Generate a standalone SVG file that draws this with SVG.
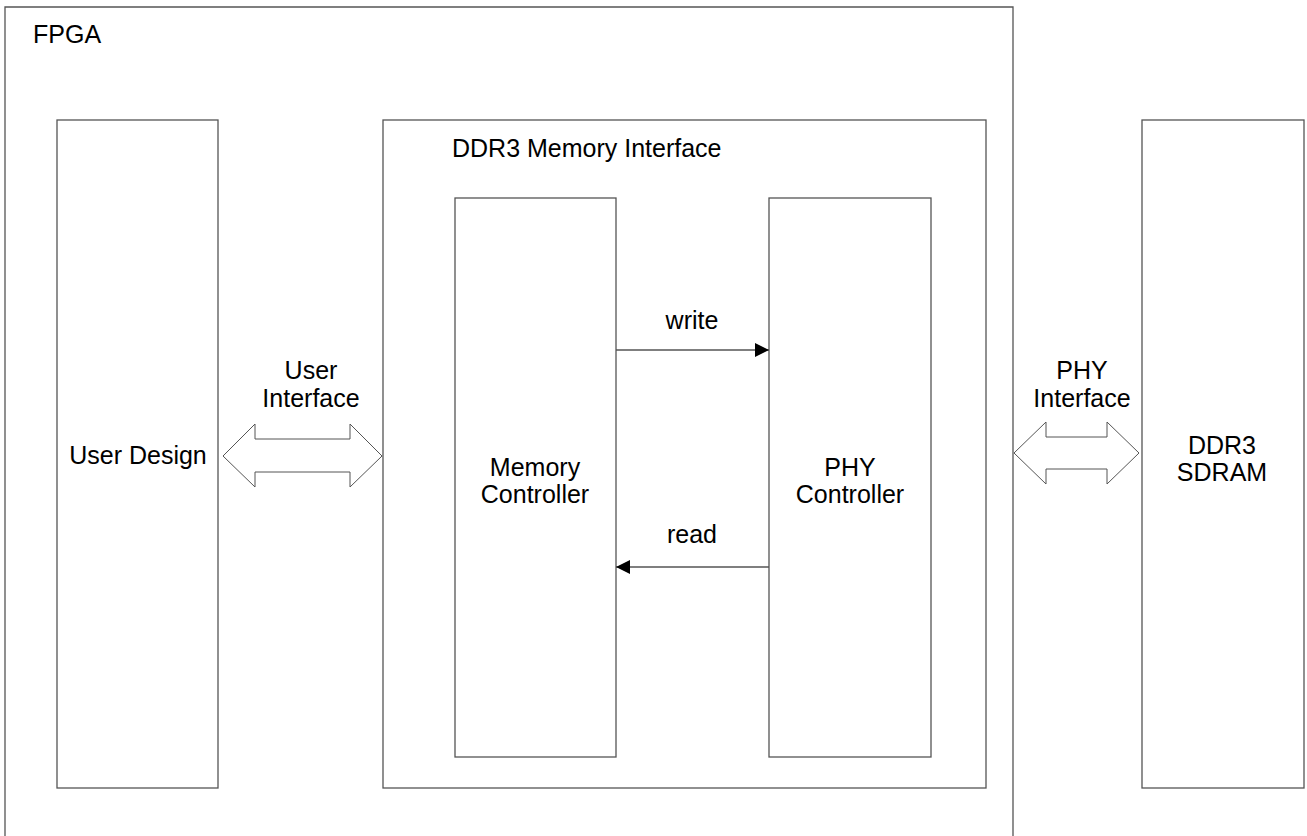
<svg xmlns="http://www.w3.org/2000/svg" width="1307" height="836" viewBox="0 0 1307 836">
<defs>
<style>
.box{fill:#fff;stroke:#555;stroke-width:1.3}
.t{font-family:"Liberation Sans",Arial,sans-serif;font-size:25px;fill:#000}
.m{text-anchor:middle}
.ln{stroke:#555;stroke-width:1.3;fill:none}
.dbl{fill:#fff;stroke:#555;stroke-width:1}
</style>
<marker id="ah" viewBox="0 0 10 10" refX="10" refY="5" markerWidth="16" markerHeight="14" markerUnits="userSpaceOnUse" orient="auto">
<path d="M0,0 L10,5 L0,10 Z" fill="#000"/>
</marker>
</defs>
<rect width="1307" height="836" fill="#fff"/>
<g id="fpga">
<path class="ln" d="M5,840 V7 H1013 V840"/>
<text class="t" x="33" y="43">FPGA</text>
</g>
<g id="user-design">
<rect class="box" x="57" y="120" width="161" height="668"/>
<text class="t m" x="138" y="464">User Design</text>
</g>
<g id="ddr3-mi">
<rect class="box" x="383" y="120" width="603" height="668"/>
<text class="t" x="452" y="157">DDR3 Memory Interface</text>
</g>
<g id="mem-ctrl">
<rect class="box" x="455" y="198" width="161" height="559"/>
<text class="t m" x="535" y="476">Memory</text>
<text class="t m" x="535" y="503">Controller</text>
</g>
<g id="phy-ctrl">
<rect class="box" x="769" y="198" width="162" height="559"/>
<text class="t m" x="850" y="476">PHY</text>
<text class="t m" x="850" y="503">Controller</text>
</g>
<g id="sdram">
<rect class="box" x="1142" y="120" width="162" height="668"/>
<text class="t m" x="1222" y="454">DDR3</text>
<text class="t m" x="1222" y="481">SDRAM</text>
</g>
<g id="connectors">
<line class="ln" x1="616" y1="350" x2="769" y2="350" marker-end="url(#ah)"/>
<text class="t m" x="692" y="329">write</text>
<line class="ln" x1="769" y1="567" x2="616" y2="567" marker-end="url(#ah)"/>
<text class="t m" x="692" y="543">read</text>
<path class="dbl" d="M223,456 L255,424 L255,439 L350,439 L350,424 L382,456 L350,487 L350,472 L255,472 L255,487 Z"/>
<text class="t m" x="311" y="379">User</text>
<text class="t m" x="311" y="407">Interface</text>
<path class="dbl" d="M1014,453 L1046,422 L1046,437 L1107,437 L1107,422 L1139,453 L1107,484 L1107,469 L1046,469 L1046,484 Z"/>
<text class="t m" x="1082" y="379">PHY</text>
<text class="t m" x="1082" y="407">Interface</text>
</g>
</svg>
